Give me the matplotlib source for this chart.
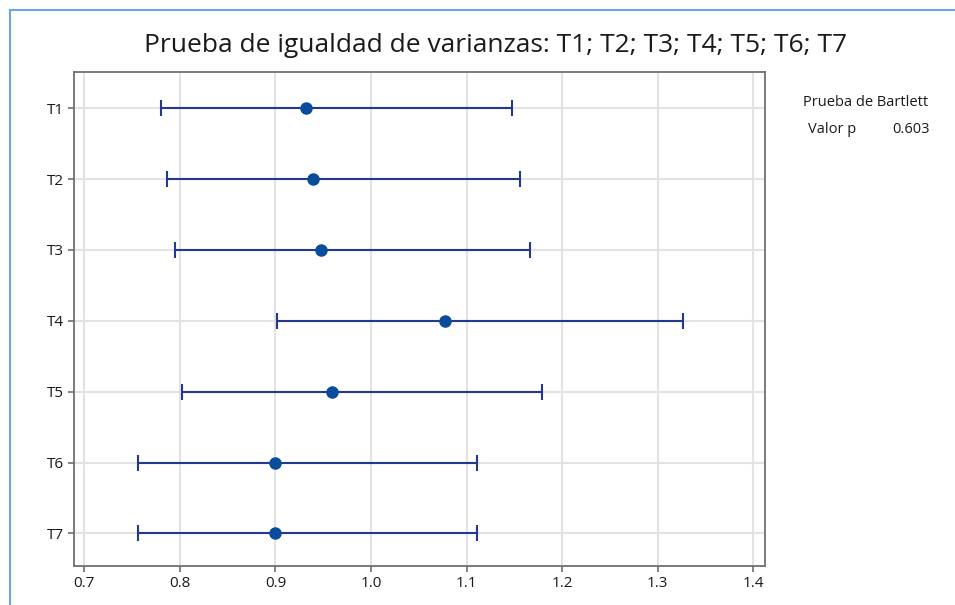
import numpy as np
import matplotlib
matplotlib.use('Agg')
import matplotlib.pyplot as plt
from matplotlib.lines import Line2D

plt.rcParams['font.family'] = ['Open Sans', 'DejaVu Sans']

# intervalos de confianza de la desviacion estandar (Bartlett)
grupos = ['T1', 'T2', 'T3', 'T4', 'T5', 'T6', 'T7']
sigma = [0.932, 0.939, 0.948, 1.077, 0.959, 0.900, 0.900]
lim_inf = [0.780, 0.786, 0.795, 0.902, 0.802, 0.756, 0.756]
lim_sup = [1.147, 1.156, 1.166, 1.326, 1.179, 1.111, 1.111]
xticks = [0.7, 0.8, 0.9, 1.0, 1.1, 1.2, 1.3, 1.4]
p_valor = 0.603

line_col = '#23388f'
pt_col = '#0a4c9c'

fig = plt.figure(figsize=(9.55, 6.05), dpi=100)
ax = fig.add_axes([74/955, 1-566/605, (765-74)/955, (566-72)/605])

y = np.arange(1, len(grupos)+1)
err = [np.array(sigma)-np.array(lim_inf), np.array(lim_sup)-np.array(sigma)]
ax.errorbar(sigma, y, xerr=err, fmt='o', color=pt_col, ecolor=line_col,
            elinewidth=1.5, capsize=6, capthick=1.5, markersize=8, zorder=3)

ax.set_xlim(0.6892, 1.4122)
ax.set_ylim(7.46, 0.49)
ax.set_xticks(xticks)
ax.set_xticklabels([f'{v:.1f}' for v in xticks])
ax.set_yticks(y)
ax.set_yticklabels(grupos)
ax.grid(True, color='#e3e3e3', linewidth=1.5, zorder=0)
ax.set_axisbelow(True)
for s in ax.spines.values():
    s.set_color('#707070')
    s.set_linewidth(1.3)
ax.tick_params(axis='both', colors='#707070', labelcolor='#1a1a1a',
               labelsize=11, length=4, width=1.2)

fig.text(495.5/955, 1-45/605, 'Prueba de igualdad de varianzas: T1; T2; T3; T4; T5; T6; T7',
         ha='center', va='center', fontsize=19, color='#1a1a1a')
fig.text(866/955, 1-102/605, 'Prueba de Bartlett', ha='center', va='center',
         fontsize=10.5, color='#1a1a1a')
fig.text(832/955, 1-130/605, 'Valor p', ha='center', va='center',
         fontsize=10.5, color='#1a1a1a')
fig.text(911/955, 1-130/605, f'{p_valor:.3f}', ha='center', va='center',
         fontsize=10.5, color='#1a1a1a')

# borde azul de la captura
fig.add_artist(Line2D([10/955, 1], [1-10/605, 1-10/605], color='#6aa6e0', linewidth=1.5))
fig.add_artist(Line2D([10/955, 10/955], [0, 1-10/605], color='#6aa6e0', linewidth=1.5))

fig.savefig('out.png', dpi=100)
